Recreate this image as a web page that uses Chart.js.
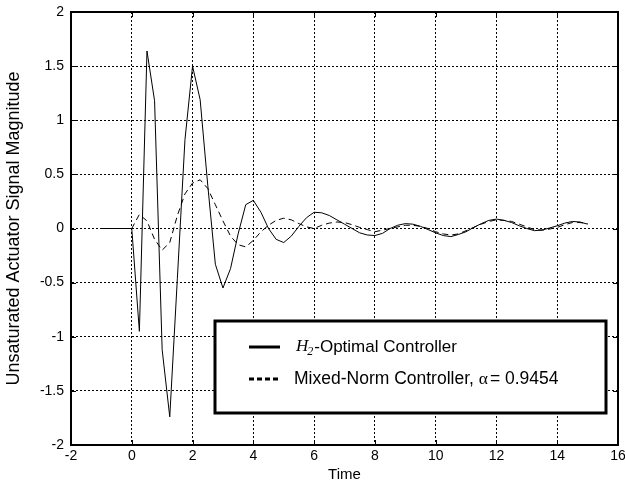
<!DOCTYPE html>
<html><head><meta charset="utf-8">
<script src="https://cdn.jsdelivr.net/npm/chart.js@4/dist/chart.umd.min.js"></script>
<style>html,body{margin:0;padding:0;background:#fff;}</style>
</head><body>
<canvas id="c" width="625" height="488"></canvas>
<script>
const time = [-1,-0.75,-0.5,-0.25,0,0.25,0.5,0.75,1,1.25,1.5,1.75,2,2.25,2.5,2.75,3,3.25,3.5,3.75,4,4.25,4.5,4.75,5,5.25,5.5,5.75,6,6.25,6.5,6.75,7,7.25,7.5,7.75,8,8.25,8.5,8.75,9,9.25,9.5,9.75,10,10.25,10.5,10.75,11,11.25,11.5,11.75,12,12.25,12.5,12.75,13,13.25,13.5,13.75,14,14.25,14.5,14.75,15];
const h2Optimal = [0,0,0,0,0,-0.95,1.64,1.18,-1.12,-1.74,-0.46,0.82,1.50,1.19,0.40,-0.33,-0.55,-0.37,-0.05,0.22,0.26,0.15,0.0,-0.10,-0.13,-0.07,0.02,0.10,0.15,0.145,0.12,0.08,0.04,0.0,-0.04,-0.06,-0.065,-0.045,0.0,0.03,0.045,0.04,0.02,-0.01,-0.04,-0.065,-0.075,-0.055,-0.03,0.01,0.045,0.075,0.087,0.075,0.055,0.025,0.0,-0.02,-0.015,0.005,0.025,0.05,0.065,0.06,0.04];
const mixedNorm = [0,0,0,0,0,0.13,0.07,-0.10,-0.20,-0.13,0.12,0.32,0.42,0.45,0.37,0.22,0.07,-0.07,-0.15,-0.17,-0.11,-0.03,0.03,0.075,0.095,0.08,0.045,0.015,0.0,0.03,0.05,0.06,0.055,0.035,0.01,-0.01,-0.03,-0.015,0.0,0.015,0.03,0.03,0.02,0.0,-0.03,-0.05,-0.06,-0.05,-0.02,0.01,0.04,0.065,0.08,0.075,0.065,0.04,0.015,-0.01,-0.015,-0.005,0.01,0.035,0.055,0.055,0.045];
const xTickValues = [-2,0,2,4,6,8,10,12,14,16];
const yTickValues = [-2,-1.5,-1,-0.5,0,0.5,1,1.5,2];
const xTitle = 'Time';
const yTitle = 'Unsaturated Actuator Signal Magnitude';
const legendLabels = ['H2-Optimal Controller', 'Mixed-Norm Controller, α = 0.9454'];

const SANS = '"Liberation Sans", Arial, Helvetica, sans-serif';
const SERIF = '"Liberation Serif", "Times New Roman", serif';

const framePlugin = {
  id: 'frame',
  afterDatasetsDraw(chart) {
    const {ctx, chartArea: a, scales} = chart;
    ctx.save();
    ctx.strokeStyle = '#000';
    ctx.setLineDash([]);
    ctx.lineWidth = 1;
    ctx.beginPath();
    xTickValues.forEach(v => {
      const px = Math.round(scales.x.getPixelForValue(v)) + 0.5;
      ctx.moveTo(px, a.bottom); ctx.lineTo(px, a.bottom - 5);
      ctx.moveTo(px, a.top); ctx.lineTo(px, a.top + 5);
    });
    yTickValues.forEach(v => {
      const py = Math.round(scales.y.getPixelForValue(v)) + 0.5;
      ctx.moveTo(a.left, py); ctx.lineTo(a.left + 5, py);
      ctx.moveTo(a.right, py); ctx.lineTo(a.right - 5, py);
    });
    ctx.stroke();
    ctx.lineWidth = 2;
    ctx.strokeRect(a.left, a.top, a.right - a.left, a.bottom - a.top);

    // legend box
    const bx = 215, by = 321, bw = 391, bh = 92;
    ctx.fillStyle = '#fff';
    ctx.fillRect(bx, by, bw, bh);
    ctx.lineWidth = 3;
    ctx.strokeRect(bx, by, bw, bh);
    const ds = chart.data.datasets;
    const rows = [347, 379];
    ds.forEach((d, i) => {
      ctx.lineWidth = 3;
      ctx.strokeStyle = d.borderColor;
      ctx.setLineDash(i === 1 ? [5, 3] : []);
      ctx.beginPath();
      ctx.moveTo(249, rows[i]); ctx.lineTo(280, rows[i]);
      ctx.stroke();
    });
    ctx.setLineDash([]);
    ctx.fillStyle = '#000';
    ctx.textBaseline = 'middle';
    ctx.textAlign = 'left';
    let x = 296;
    ctx.font = 'italic 17px ' + SERIF;
    ctx.fillText('H', x, rows[0]);
    x += ctx.measureText('H').width;
    ctx.font = 'italic 12px ' + SERIF;
    ctx.fillText('2', x - 1, rows[0] + 5);
    x += ctx.measureText('2').width;
    ctx.font = '17px ' + SANS;
    ctx.fillText(legendLabels[0].slice(2), x, rows[0]);
    const s2 = legendLabels[1];
    const ai = s2.indexOf('α');
    x = 294;
    ctx.font = '17.5px ' + SANS;
    ctx.fillText(s2.slice(0, ai), x, rows[1]);
    x += ctx.measureText(s2.slice(0, ai)).width;
    ctx.font = '17.5px ' + SERIF;
    ctx.fillText('α', x, rows[1]);
    x += ctx.measureText('α').width + 2;
    ctx.font = '17.5px ' + SANS;
    ctx.fillText(s2.slice(ai + 1).replace(/^ /, ''), x, rows[1]);
    ctx.restore();
  }
};

new Chart(document.getElementById('c'), {
  type: 'line',
  data: {
    datasets: [
      { label: legendLabels[0], data: time.map((t, i) => ({x: t, y: h2Optimal[i]})),
        borderColor: '#000', borderWidth: 1, pointRadius: 0, tension: 0, fill: false },
      { label: legendLabels[1], data: time.map((t, i) => ({x: t, y: mixedNorm[i]})),
        borderColor: '#000', borderWidth: 1, borderDash: [6, 4], pointRadius: 0, tension: 0, fill: false }
    ]
  },
  options: {
    responsive: false,
    animation: false,
    devicePixelRatio: 1,
    layout: { padding: { top: 12, right: 7, left: 0, bottom: 0 } },
    plugins: { legend: { display: false }, tooltip: { enabled: false } },
    scales: {
      x: {
        type: 'linear', min: -2, max: 16,
        afterBuildTicks: s => { s.ticks = xTickValues.map(v => ({ value: v })); },
        afterFit: s => { s.height = 43; s.paddingLeft = 0; s.paddingRight = 0; },
        grid: { color: '#000', lineWidth: 1, drawTicks: false },
        border: { display: true, color: '#000', width: 2, dash: [2, 2] },
        ticks: { color: '#000', font: { family: SANS, size: 14 }, padding: 3, maxRotation: 0, autoSkip: false,
                 callback: v => String(v) },
        title: { display: true, text: xTitle, color: '#000', font: { family: SANS, size: 15 }, padding: { top: 0, bottom: 4 } }
      },
      y: {
        type: 'linear', min: -2, max: 2,
        afterBuildTicks: s => { s.ticks = yTickValues.map(v => ({ value: v })); },
        afterFit: s => { s.width = 71; s.paddingTop = 0; s.paddingBottom = 0; },
        grid: { color: '#000', lineWidth: 1, drawTicks: false },
        border: { display: true, color: '#000', width: 2, dash: [2, 2] },
        ticks: { color: '#000', font: { family: SANS, size: 14 }, padding: 7, autoSkip: false,
                 callback: v => String(v) },
        title: { display: true, text: yTitle, color: '#000', font: { family: SANS, size: 18 }, padding: { top: 3, bottom: 0 } }
      }
    }
  },
  plugins: [framePlugin]
});
</script>
</body></html>
